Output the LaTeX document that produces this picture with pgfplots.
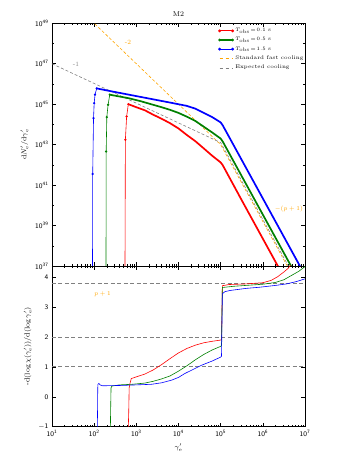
\documentclass[border=0pt]{standalone}
\usepackage{pgfplots}
\pgfplotsset{compat=1.18}
\definecolor{mred}{RGB}{255,0,0}
\definecolor{mgreen}{RGB}{0,128,0}
\definecolor{mblue}{RGB}{0,0,255}
\definecolor{morange}{RGB}{255,165,0}
\definecolor{mgray}{RGB}{128,128,128}

% minor ticks of a log axis, drawn on a linear axis in log10 units
\def\minorlist{}
\foreach \d in {1,...,6}{\foreach \k in {2,...,9}{%
  \pgfmathparse{\d+log10(\k)}%
  \ifx\minorlist\empty\xdef\minorlist{\pgfmathresult}\else\xdef\minorlist{\minorlist,\pgfmathresult}\fi}}

\pgfplotsset{
  mstyle/.style={
    scale only axis, width=253pt,
    xmin=1, xmax=7, xtick={1,...,7},
    minor xtick/.expanded={\minorlist},
    tick align=inside, major tick length=4pt, minor tick length=2pt,
    tick style={black, line width=0.5pt},
    axis line style={line width=0.6pt},
    tick label style={font=\fontsize{7}{8}\selectfont},
    label style={font=\fontsize{7.5}{8.5}\selectfont},
  },
  thick line/.style={line width=1.7pt},
  rise/.style={line width=0.6pt, mark=*, mark size=0.8pt},
}

\begin{document}
\begin{tikzpicture}[x=1pt,y=1pt]
\useasboundingbox (-52,-199) rectangle (297,266);

%---------------- top panel ----------------
\begin{axis}[mstyle,
  at={(0,0)}, anchor=south west, height=242.7pt,
  ymin=37, ymax=49, ytick={37,39,...,49}, minor ytick={38,40,...,48},
  xticklabel=\empty,
  yticklabel={$\mathsf{10^{\pgfmathprintnumber{\tick}}}$},
  title={M2}, title style={font=\fontsize{7}{8}\selectfont, yshift=-3pt},
  ylabel={$\mathrm{d}N'_{\mathrm{e}}/\mathrm{d}\gamma'_{\mathrm{e}}$},
  legend style={at={(rel axis cs:0.655,0.992)}, anchor=north west, draw=none, fill=none,
    font=\fontsize{5.3}{6}\selectfont, row sep=0.2pt, inner sep=1pt},
  legend cell align=left,
  legend image code/.code={\draw[#1] (0pt,0pt) -- (13pt,0pt); \draw[#1, only marks] plot coordinates {(0pt,0pt) (13pt,0pt)};},
]
\addlegendimage{mred, line width=1.2pt, mark=*, mark size=0.7pt}
\addlegendentry{$T_{\mathrm{obs}}\!=\!0.1$ s}
\addlegendimage{mgreen, line width=1.2pt, mark=*, mark size=0.7pt}
\addlegendentry{$T_{\mathrm{obs}}\!=\!0.5$ s}
\addlegendimage{mblue, line width=1.2pt, mark=*, mark size=0.7pt}
\addlegendentry{$T_{\mathrm{obs}}\!=\!1.5$ s}
\addlegendimage{morange, dashed, line width=0.6pt}
\addlegendentry{Standard fast cooling}
\addlegendimage{mgray, dashed, line width=0.6pt}
\addlegendentry{Expected cooling}

% reference slopes
\addplot[forget plot, morange, line width=0.6pt, dash pattern=on 3pt off 2pt] coordinates {
  (1.5,50) (5.0,43.0) (6.7,36.54)};
\addplot[forget plot, mgray, line width=0.6pt, dash pattern=on 3pt off 2pt] coordinates {
  (1.0,47.0) (5.0,43.1) (6.7,36.64)};

% T_obs = 0.1 s
\addplot[forget plot, mred, rise] coordinates {
  (2.73,36) (2.74,43.24) (2.77,44.39) (2.81,45.0)};
\addplot[forget plot, mred, thick line] coordinates {
  (2.81,45.0) (3.0,44.85) (3.2,44.7) (3.4,44.48) (3.6,44.28) (3.8,44.06)
  (4.0,43.8) (4.19,43.49) (4.4,43.17) (4.59,42.83) (4.8,42.45) (5.0,42.12)
  (5.05,41.98) (5.5,40.25) (6.0,38.35) (6.5,36.45)};
% T_obs = 0.5 s
\addplot[forget plot, mgreen, rise] coordinates {
  (2.28,36) (2.285,42.66) (2.30,44.36) (2.33,44.97) (2.37,45.47)};
\addplot[forget plot, mgreen, thick line] coordinates {
  (2.37,45.47) (2.6,45.38) (2.81,45.30) (3.1,45.15) (3.4,44.97) (3.6,44.85)
  (3.8,44.72) (4.0,44.57) (4.19,44.39) (4.4,44.17) (4.59,43.90) (4.8,43.6)
  (5.0,43.3) (5.05,43.15) (5.5,41.44) (6.0,39.54) (6.5,37.64) (6.8,36.5)};
% T_obs = 1.5 s
\addplot[forget plot, mblue, rise] coordinates {
  (1.96,36) (1.965,41.55) (1.985,44.31) (2.0,45.05) (2.02,45.47) (2.06,45.78)};
\addplot[forget plot, mblue, thick line] coordinates {
  (2.06,45.78) (2.5,45.6) (3.0,45.4) (3.4,45.24) (3.8,45.08) (4.19,44.92)
  (4.4,44.78) (4.59,44.58) (4.8,44.36) (5.0,44.1) (5.05,43.95) (5.5,42.24)
  (6.0,40.34) (6.5,38.44) (7.0,36.54)};

\node[morange, font=\fontsize{6.5}{7}\selectfont] at (axis cs:2.8,48.06) {-2};
\node[mgray, font=\fontsize{6.5}{7}\selectfont] at (axis cs:1.57,46.95) {-1};
\node[morange, font=\fontsize{6.5}{7}\selectfont] at (axis cs:6.62,39.8) {$-(p+1)$};
\end{axis}

%---------------- bottom panel ----------------
\begin{axis}[mstyle,
  at={(0,0)}, anchor=north west, height=160.7pt,
  ymin=-1, ymax=4.38, ytick={-1,0,...,4},
  xticklabel={$\mathsf{10^{\pgfmathprintnumber{\tick}}}$},
  yticklabel={$\mathsf{\pgfmathprintnumber{\tick}}$},
  xlabel={$\gamma'_{\mathrm{e}}$},
  ylabel={-d$(\log\chi(\gamma'_{\mathrm{e}}))$/d$(\log\gamma'_{\mathrm{e}})$},
]
\addplot[mgray, line width=1pt, dash pattern=on 4pt off 2.5pt] coordinates {(1,1) (7,1)};
\addplot[mgray, line width=1pt, dash pattern=on 4pt off 2.5pt] coordinates {(1,2) (7,2)};
\addplot[mgray, line width=1pt, dash pattern=on 4pt off 2.5pt] coordinates {(1,3.78) (7,3.78)};

\addplot[mred, line width=0.6pt] coordinates {
  (2.80,-1.5) (2.82,-0.5) (2.83,0.3) (2.85,0.45) (2.88,0.61) (3.0,0.67) (3.2,0.76)
  (3.4,0.9) (3.6,1.08) (3.8,1.28) (4.0,1.47) (4.2,1.62) (4.4,1.73) (4.6,1.81)
  (4.8,1.86) (5.0,1.9) (5.02,1.92) (5.04,3.72) (5.2,3.76) (5.6,3.78) (6.0,3.82)
  (6.2,3.9) (6.35,4.02) (6.5,4.18) (6.6,4.3) (6.7,4.5)};
\addplot[mgreen, line width=0.6pt] coordinates {
  (2.38,-1.5) (2.39,-0.5) (2.40,0.3) (2.42,0.36) (2.6,0.4) (2.9,0.42) (3.2,0.46)
  (3.4,0.52) (3.6,0.6) (3.8,0.7) (4.0,0.86) (4.2,1.04) (4.4,1.24) (4.6,1.42)
  (4.8,1.57) (5.0,1.69) (5.02,1.72) (5.04,3.66) (5.3,3.70) (5.6,3.73) (6.0,3.77)
  (6.3,3.83) (6.5,3.92) (6.7,4.08) (6.85,4.2) (7.0,4.36)};
\addplot[mblue, line width=0.6pt] coordinates {
  (2.07,-1.5) (2.08,-0.5) (2.085,0.3) (2.09,0.42) (2.11,0.45) (2.14,0.4) (2.2,0.37)
  (2.6,0.38) (3.0,0.40) (3.36,0.42) (3.6,0.47) (3.84,0.56) (4.0,0.65) (4.15,0.78)
  (4.35,0.92) (4.55,1.06) (4.8,1.2) (5.0,1.33) (5.02,1.36) (5.04,3.45) (5.1,3.52)
  (5.22,3.56) (5.6,3.63) (5.93,3.67) (6.3,3.73) (6.56,3.78) (6.8,3.86) (7.0,3.95)};

\node[morange, font=\fontsize{6.5}{7}\selectfont] at (axis cs:2.2,3.45) {$p+1$};
\end{axis}
\end{tikzpicture}
\end{document}
